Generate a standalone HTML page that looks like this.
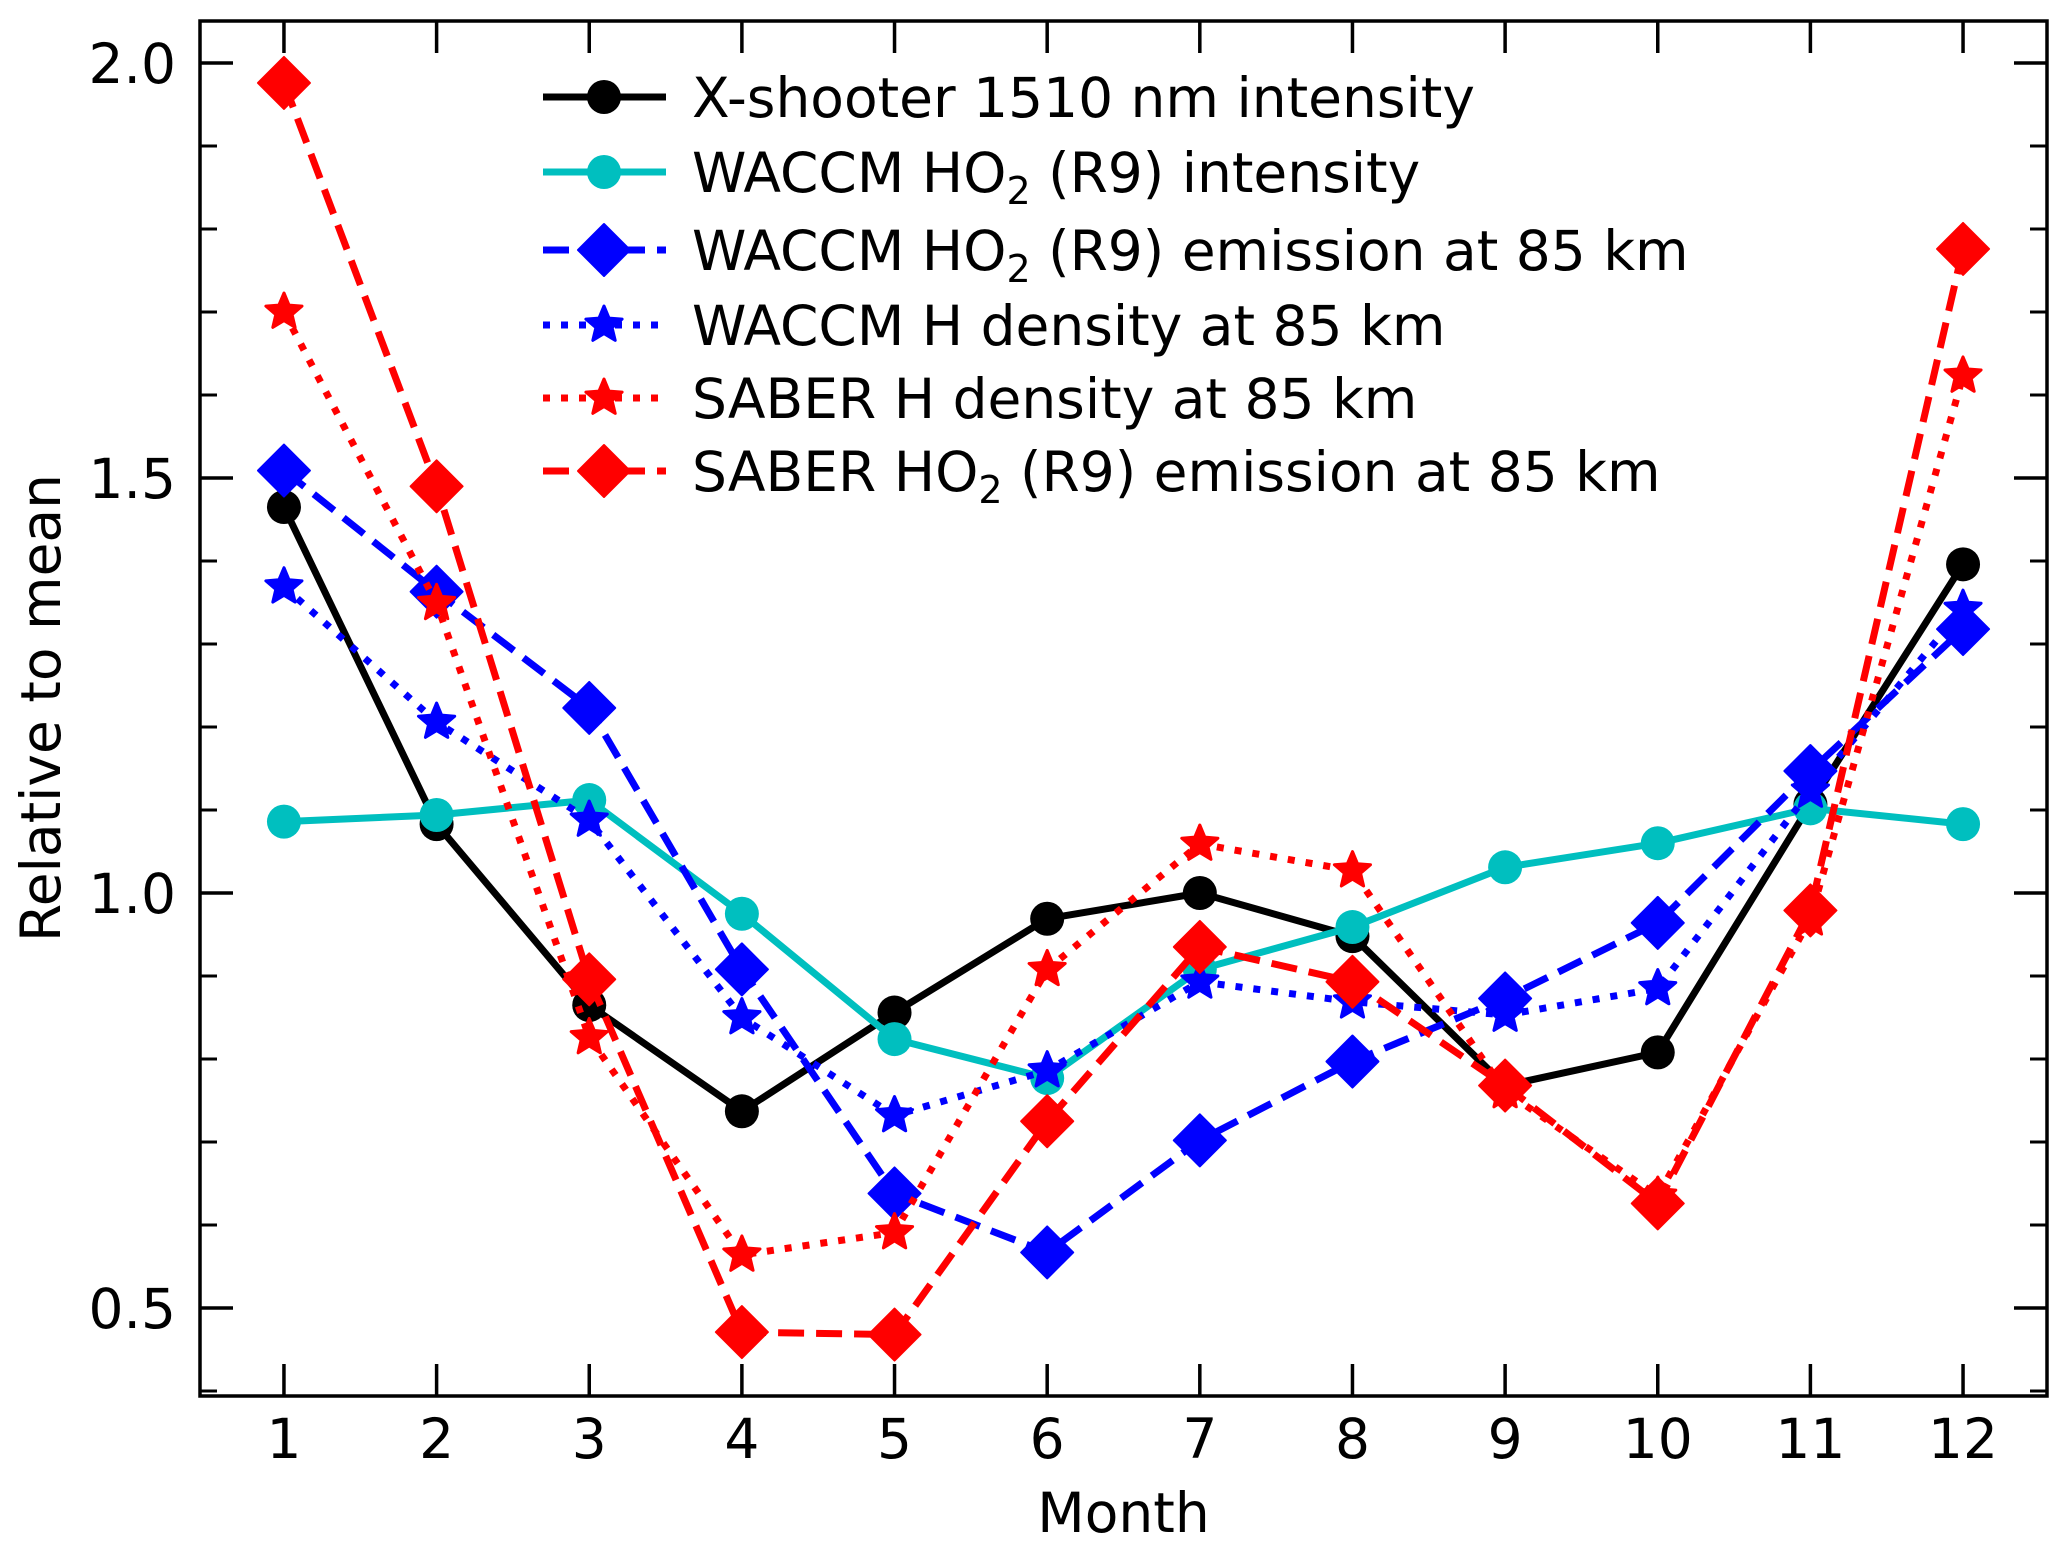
<!DOCTYPE html>
<html><head><meta charset="utf-8"><style>
html,body{margin:0;padding:0;background:#fff;}
svg{display:block;font-family:"DejaVu Sans","Liberation Sans",sans-serif;}
</style></head><body>
<svg id="chart" width="2067" height="1551" viewBox="0 0 2067 1551">
<g id="plot"></g>
</svg>
<script>
const months = [1,2,3,4,5,6,7,8,9,10,11,12];
const xshooter = [1.465,1.083,0.865,0.737,0.856,0.969,1.0,0.948,0.768,0.808,1.107,1.396];
const waccmIntensity = [1.086,1.094,1.112,0.975,0.824,0.777,0.908,0.959,1.031,1.06,1.102,1.083];
const waccmEmission = [1.509,1.363,1.223,0.908,0.638,0.567,0.702,0.797,0.873,0.964,1.147,1.318];
const waccmH = [1.369,1.206,1.088,0.85,0.732,0.786,0.893,0.869,0.853,0.885,1.123,1.342];
const saberH = [1.70,1.349,0.826,0.564,0.591,0.908,1.059,1.027,0.761,0.635,0.969,1.623];
const saberEmission = [1.976,1.49,0.896,0.471,0.468,0.725,0.935,0.893,0.768,0.626,0.979,1.776];
const yMajorTicks = [0.5,1.0,1.5,2.0];
const yTickLabels = ["0.5","1.0","1.5","2.0"];
const legendLabels = ["X-shooter 1510 nm intensity","WACCM HO|2| (R9) intensity","WACCM HO|2| (R9) emission at 85 km","WACCM H density at 85 km","SABER H density at 85 km","SABER HO|2| (R9) emission at 85 km"];

const L=200,R=2047,T=21,B=1396;
const xmin=0.45,xmax=12.55,ymin=0.394,ymax=2.0506;
function xs(v){return L+(v-xmin)/(xmax-xmin)*(R-L);}
function ys(v){return B-(v-ymin)/(ymax-ymin)*(B-T);}
const NS="http://www.w3.org/2000/svg";
const g=document.getElementById('plot');
function el(tag,attrs,parent){const e=document.createElementNS(NS,tag);for(const k in attrs)e.setAttribute(k,attrs[k]);(parent||g).appendChild(e);return e;}

const series=[
 {name:'xshooter',data:xshooter,color:'#000',dash:'',marker:'circle'},
 {name:'waccm-intensity',data:waccmIntensity,color:'#00bfbf',dash:'',marker:'circle'},
 {name:'waccm-emission',data:waccmEmission,color:'#0000ff',dash:'26 12',marker:'diamond'},
 {name:'waccm-h-density',data:waccmH,color:'#0000ff',dash:'7 11',marker:'star'},
 {name:'saber-h-density',data:saberH,color:'#ff0000',dash:'7 11',marker:'star'},
 {name:'saber-emission',data:saberEmission,color:'#ff0000',dash:'26 12',marker:'diamond'}
];
function starPts(cx,cy,r){let p=[];for(let i=0;i<10;i++){const rr=i%2?r*0.45:r;const a=-Math.PI/2+i*Math.PI/5;p.push((cx+rr*Math.cos(a)).toFixed(1)+','+(cy+rr*Math.sin(a)).toFixed(1));}return p.join(' ');}
function marker(type,cx,cy,color,parent){
 let m;
 if(type==='circle')m=el('circle',{cx:cx,cy:cy,r:17,fill:color},parent);
 else if(type==='diamond'){const s=26;m=el('polygon',{points:`${cx},${cy-s} ${cx+s},${cy} ${cx},${cy+s} ${cx-s},${cy}`,fill:color,stroke:color,'stroke-width':2,'stroke-linejoin':'round'},parent);}
 else m=el('polygon',{points:starPts(cx,cy,19),fill:color,stroke:color,'stroke-width':3,'stroke-linejoin':'round'},parent);
 return m;
}
series.forEach(s=>{
 const grp=el('g',{});
 
 
 const pts=s.data.map((v,i)=>xs(months[i]).toFixed(1)+','+ys(v).toFixed(1)).join(' ');
 const ln=el('polyline',{points:pts,fill:'none',stroke:s.color,'stroke-width':7,'stroke-dasharray':s.dash,'stroke-linejoin':'round'},grp);
 
 
 s.data.forEach((v,i)=>{
  const m=marker(s.marker,xs(months[i]),ys(v),s.color,grp);
  
  
 });
});
// axes frame
const fr=el('rect',{x:L,y:T,width:R-L,height:B-T,fill:'none',stroke:'#000','stroke-width':3.5});


// x ticks
months.forEach(m=>{
 const x=xs(m);
 el('line',{x1:x,x2:x,y1:B,y2:B-32,stroke:'#000','stroke-width':3.5});
 el('line',{x1:x,x2:x,y1:T,y2:T+32,stroke:'#000','stroke-width':3.5});
 const t=el('text',{x:x,y:B+62,'text-anchor':'middle','font-size':55});
 t.textContent=String(m);
 
 
});
// y minor ticks
for(let k=4;k<=20;k++){const v=k/10;const y=ys(v);
 el('line',{x1:L,x2:L+17,y1:y,y2:y,stroke:'#000','stroke-width':3});
 el('line',{x1:R,x2:R-17,y1:y,y2:y,stroke:'#000','stroke-width':3});}
yMajorTicks.forEach((v,i)=>{const y=ys(v);
 el('line',{x1:L,x2:L+33,y1:y,y2:y,stroke:'#000','stroke-width':3.5});
 el('line',{x1:R,x2:R-33,y1:y,y2:y,stroke:'#000','stroke-width':3.5});
 const t=el('text',{x:L-24,y:y+20,'text-anchor':'end','font-size':55});
 t.textContent=yTickLabels[i];
 
 
});
const xt=el('text',{x:(L+R)/2,y:1532,'text-anchor':'middle','font-size':55});
xt.textContent='Month';


const yt=el('text',{x:0,y:0,'text-anchor':'middle','font-size':55,transform:'translate(60,708) rotate(-90)'});
yt.textContent='Relative to mean';


// legend
const legY=[97,172,250,325,398,471];
series.forEach((s,i)=>{
 const lg=el('g',{});
 
 
 const y=legY[i];
 el('line',{x1:543,x2:666,y1:y,y2:y,stroke:s.color,'stroke-width':7,'stroke-dasharray':s.dash},lg);
 marker(s.marker,604,y,s.color,lg);
 const t=el('text',{x:692,y:y+20,'font-size':55},lg);
 const parts=legendLabels[i].split('|');
 parts.forEach((p,j)=>{const sp=el('tspan',j%2?{'font-size':38,dy:12}:(j>0?{dy:-12}:{}),t);sp.textContent=p;});
});
</script>
</body></html>
